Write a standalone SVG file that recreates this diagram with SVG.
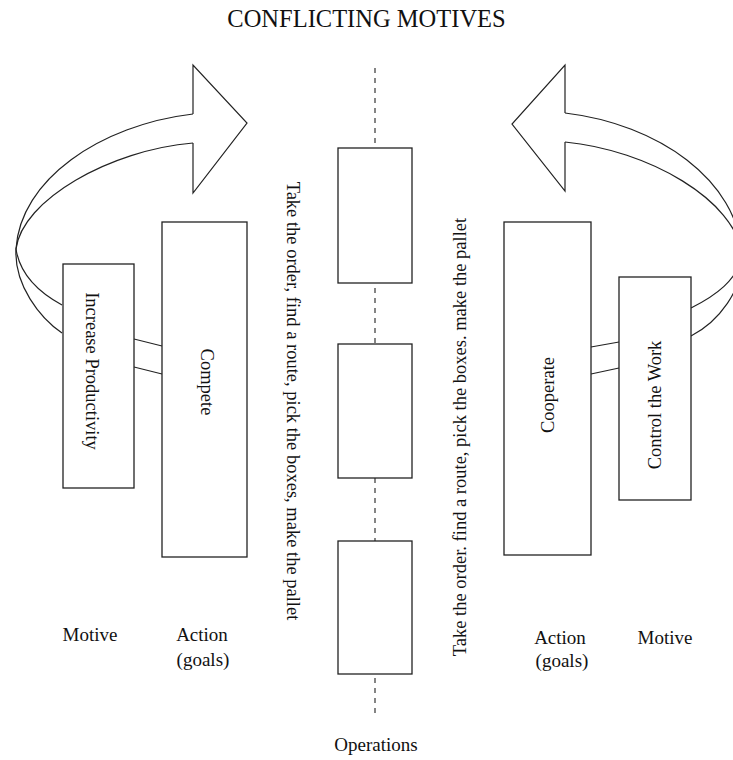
<svg xmlns="http://www.w3.org/2000/svg" width="733" height="760" viewBox="0 0 733 760">
<style>
.ln{fill:none;stroke:#222;stroke-width:1.2}
.bx{fill:#fff;stroke:#222;stroke-width:1.3}
.t{font-family:"Liberation Serif","Times New Roman",serif;fill:#111;font-size:18.5px}
.lb{font-family:"Liberation Serif","Times New Roman",serif;fill:#111;font-size:19px;text-anchor:middle}
.dash{fill:none;stroke:#222;stroke-width:1.1;stroke-dasharray:5 5}
</style>
<rect width="733" height="760" fill="#fff"/>
<text x="366.5" y="27" font-family="Liberation Serif, Times New Roman, serif" font-size="24.5" text-anchor="middle" fill="#111">CONFLICTING MOTIVES</text>

<g id="connectors">
<line class="dash" x1="375" y1="68" x2="375" y2="715"/>
<!-- left arrow -->
<path class="ln" d="M193,114 L193,65 L247,123 L193,193 L193,143"/>
<path class="ln" d="M193,114 C100,125 20,180 16,249 C14,285 40,318 62,333"/>
<path class="ln" d="M193,143 C110,150 22,200 16,249 C20,275 40,293 62,305"/>
<line class="ln" x1="134" y1="339" x2="162" y2="346"/>
<line class="ln" x1="134" y1="367" x2="162" y2="374"/>
<!-- right arrow -->
<path class="ln" d="M565,113 L565,65 L512,124 L565,191 L565,142"/>
<path class="ln" d="M565,113 C658,124 738,180 742,255 C744,290 718,322 691,336"/>
<path class="ln" d="M565,142 C648,150 736,200 742,255 C738,280 715,296 691,308"/>
<line class="ln" x1="591" y1="347" x2="619" y2="342"/>
<line class="ln" x1="591" y1="374" x2="619" y2="368"/>
</g>

<g id="increase-productivity">
<rect class="bx" x="63" y="264" width="71" height="224"/>
<text class="t" transform="translate(92,371) rotate(90)" text-anchor="middle" dominant-baseline="central">Increase Productivity</text>
</g>
<g id="compete">
<rect class="bx" x="162" y="222" width="85" height="335"/>
<text class="t" transform="translate(207,382) rotate(90)" text-anchor="middle" dominant-baseline="central">Compete</text>
</g>
<g id="cooperate">
<rect class="bx" x="504" y="222" width="87" height="333"/>
<text class="t" transform="translate(548,395) rotate(-90)" text-anchor="middle" dominant-baseline="central">Cooperate</text>
</g>
<g id="control-the-work">
<rect class="bx" x="619" y="277" width="72" height="223"/>
<text class="t" transform="translate(655,405) rotate(-90)" text-anchor="middle" dominant-baseline="central">Control the Work</text>
</g>

<g id="op1"><rect class="bx" x="338" y="148" width="74" height="135"/></g>
<g id="op2"><rect class="bx" x="338" y="344" width="74" height="134"/></g>
<g id="op3"><rect class="bx" x="338" y="541" width="74" height="133"/></g>

<g id="ops-left-text">
<text class="t" transform="translate(293,401) rotate(90)" text-anchor="middle" dominant-baseline="central">Take the order, find a route, pick the boxes, make the pallet</text>
</g>
<g id="ops-right-text">
<text class="t" transform="translate(460,437) rotate(-90)" text-anchor="middle" dominant-baseline="central">Take the order. find a route, pick the boxes. make the pallet</text>
</g>

<g id="labels">
<text class="lb" x="90" y="641">Motive</text>
<text class="lb" x="202" y="641">Action</text>
<text class="lb" x="203" y="666">(goals)</text>
<text class="lb" x="560" y="644">Action</text>
<text class="lb" x="562" y="667">(goals)</text>
<text class="lb" x="665" y="644">Motive</text>
<text class="lb" x="376" y="751">Operations</text>
</g>
</svg>
